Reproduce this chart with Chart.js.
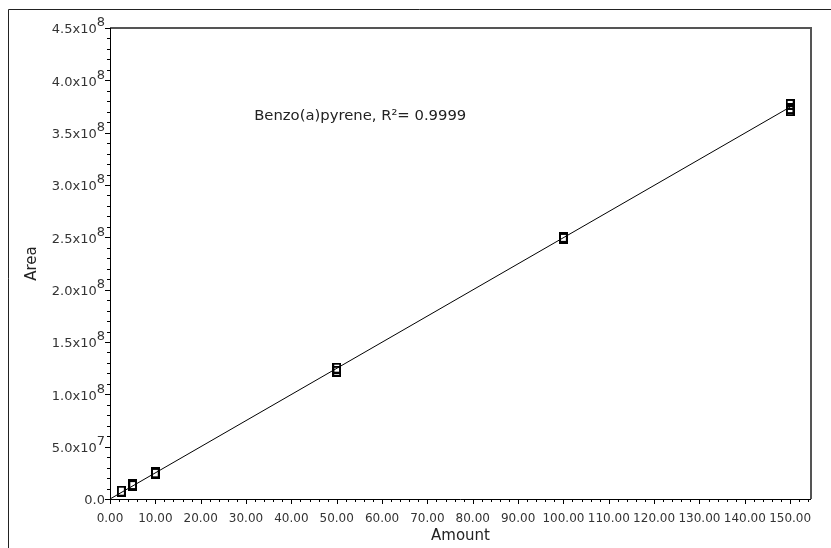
<!DOCTYPE html>
<html><head><meta charset="utf-8">
<script src="https://cdn.jsdelivr.net/npm/chart.js@4/dist/chart.umd.min.js"></script>
<style>html,body{margin:0;padding:0;background:#fff}#wrap{width:831px;height:548px;position:relative}</style>
</head><body><div id="wrap"><canvas id="c" width="831" height="548"></canvas></div>
<script>
// ---- data ----
const amounts = [2.5, 5, 5, 10, 10, 50, 50, 100, 100, 150, 150, 150];
const areas   = [7.5e6, 1.38e7, 1.28e7, 2.5e7, 2.45e7, 1.25e8, 1.22e8, 2.5e8, 2.49e8, 3.77e8, 3.73e8, 3.71e8];
const fitAmounts = [0, 150];
const fitAreas   = [0, 3.745e8];
const xTickValues = [0, 10, 20, 30, 40, 50, 60, 70, 80, 90, 100, 110, 120, 130, 140, 150];
const yTickValues = [0, 5e7, 1e8, 1.5e8, 2e8, 2.5e8, 3e8, 3.5e8, 4e8, 4.5e8];
const annotationText = 'Benzo(a)pyrene, R\u00B2= 0.9999';
const annotationAt = [31.8, 3.655e8];
const xTitle = 'Amount';
const yTitle = 'Area';

const FONT = '"DejaVu Sans", Verdana, sans-serif';

// hollow tall rectangle marker
const marker = document.createElement('canvas');
marker.width = 9; marker.height = 11;
(function(){ const m = marker.getContext('2d'); m.strokeStyle = '#000'; m.lineWidth = 2; m.strokeRect(1, 1, 7, 9); })();

function yLabelParts(v){
  if (v === 0) return ['0.0', ''];
  const e = Math.floor(Math.log10(v) + 1e-9);
  const m = v / Math.pow(10, e);
  return [m.toFixed(1) + 'x10', String(e)];
}

const deco = {
  id: 'deco',
  beforeDraw(chart){
    const ctx = chart.ctx;
    ctx.save();
    ctx.fillStyle = '#fff';
    ctx.fillRect(0, 0, chart.width, chart.height);
    ctx.strokeStyle = '#222';
    ctx.lineWidth = 1;
    ctx.beginPath();
    ctx.moveTo(8.5, chart.height); ctx.lineTo(8.5, 9.5); ctx.lineTo(chart.width, 9.5);
    ctx.stroke();
    ctx.restore();
  },
  afterDraw(chart){
    const {ctx, chartArea: a, scales: {x, y}} = chart;
    ctx.save();
    // top & right frame of plot
    ctx.strokeStyle = '#555';
    ctx.lineWidth = 2;
    ctx.beginPath();
    ctx.moveTo(a.left, a.top); ctx.lineTo(a.right, a.top); ctx.lineTo(a.right, a.bottom);
    ctx.stroke();
    // axes
    ctx.strokeStyle = '#000';
    ctx.lineWidth = 1;
    ctx.beginPath();
    ctx.moveTo(a.left + 0.5, a.top); ctx.lineTo(a.left + 0.5, a.bottom + 0.5); ctx.lineTo(a.right, a.bottom + 0.5);
    ctx.stroke();
    // x ticks (minor every 2)
    ctx.beginPath();
    for (let i = 0; i * 2 <= x.max; i++) {
      const px = Math.round(x.getPixelForValue(i * 2)) + 0.5;
      const len = (i % 5 === 0) ? 5 : 3;
      ctx.moveTo(px, a.bottom); ctx.lineTo(px, a.bottom + len);
    }
    // y ticks (minor every 1e7)
    for (let i = 0; i <= 45; i++) {
      const py = Math.round(y.getPixelForValue(i * 1e7)) + 0.5;
      const len = (i % 5 === 0) ? 5 : 3;
      ctx.moveTo(a.left, py); ctx.lineTo(a.left - len, py);
    }
    ctx.stroke();
    // y labels with superscript exponent
    ctx.fillStyle = '#333';
    ctx.textBaseline = 'middle';
    ctx.textAlign = 'right';
    const baseFont = '13px ' + FONT, supFont = '13px ' + FONT;
    yTickValues.forEach(v => {
      const py = y.getPixelForValue(v);
      const [base, exp] = yLabelParts(v);
      let right = a.left - 5;
      if (exp) {
        ctx.font = supFont;
        ctx.fillText(exp, right, py - 5);
        right -= ctx.measureText(exp).width;
      }
      ctx.font = baseFont;
      ctx.fillText(base, right, py + 2);
    });
    // annotation
    ctx.textAlign = 'left';
    ctx.fillStyle = '#222';
    ctx.font = '14.8px ' + FONT;
    ctx.fillText(annotationText, x.getPixelForValue(annotationAt[0]), y.getPixelForValue(annotationAt[1]));
    ctx.restore();
  }
};

new Chart(document.getElementById('c'), {
  type: 'scatter',
  data: {
    datasets: [
      {
        label: 'Benzo(a)pyrene',
        data: amounts.map((a, i) => ({x: a, y: areas[i]})),
        pointStyle: marker,
        pointRadius: 5,
        showLine: false,
        order: 0
      },
      {
        label: 'fit',
        data: fitAmounts.map((a, i) => ({x: a, y: fitAreas[i]})),
        showLine: true,
        borderColor: '#000',
        borderWidth: 1,
        pointRadius: 0,
        fill: false,
        order: 1
      }
    ]
  },
  options: {
    responsive: false,
    animation: false,
    devicePixelRatio: 1,
    layout: {padding: {top: 28, right: 20, left: 0, bottom: 0}},
    plugins: {legend: {display: false}, tooltip: {enabled: false}},
    scales: {
      x: {
        type: 'linear', min: 0, max: 154.6,
        grid: {display: false}, border: {display: false},
        afterBuildTicks: s => { s.ticks = xTickValues.map(v => ({value: v})); },
        afterFit: s => { s.height = 49; },
        ticks: {
          autoSkip: false, maxRotation: 0, padding: 5,
          color: '#333', font: {family: FONT, size: 12},
          callback: v => Number(v).toFixed(2)
        },
        title: {display: true, text: xTitle, color: '#222', font: {family: FONT, size: 15}, padding: {top: 0, bottom: 3}}
      },
      y: {
        type: 'linear', min: 0, max: 4.5e8,
        grid: {display: false}, border: {display: false},
        afterBuildTicks: s => { s.ticks = yTickValues.map(v => ({value: v})); },
        afterFit: s => { s.width = 110; },
        ticks: {display: false},
        title: {display: true, text: yTitle, color: '#222', font: {family: FONT, size: 15}, padding: {top: 23, bottom: 0}}
      }
    }
  },
  plugins: [deco]
});
</script>
</body></html>
